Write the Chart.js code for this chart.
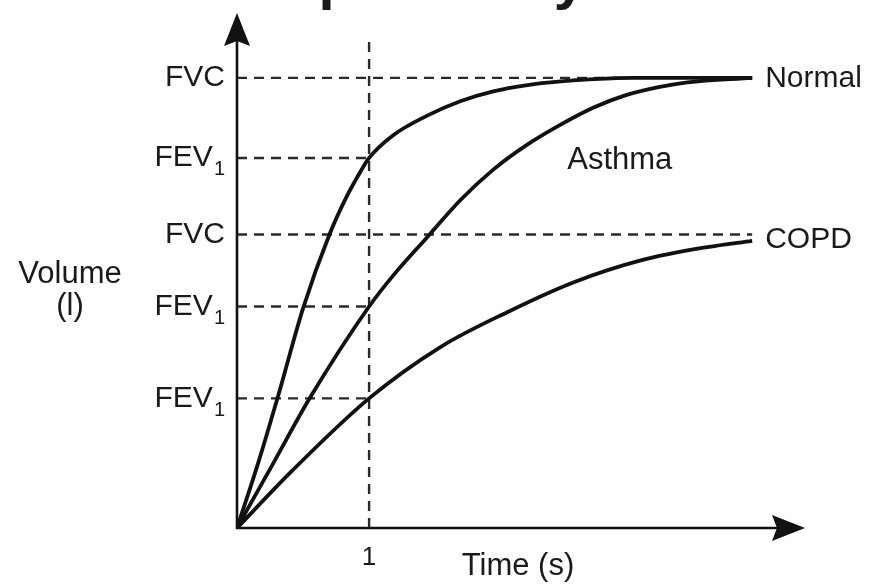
<!DOCTYPE html>
<html>
<head>
<meta charset="utf-8">
<title>Spirometry</title>
<script src="https://cdn.jsdelivr.net/npm/chart.js@4.4.1/dist/chart.umd.min.js"></script>
<style>
  html, body { margin: 0; padding: 0; background: #fff; }
  #wrap { width: 880px; height: 586px; position: relative; }
</style>
</head>
<body>
<div id="wrap"><canvas id="spiro"></canvas></div>
<script>
// values: time in s, volume in l
const normalTime = [0, 0.16, 0.31, 0.5, 0.7, 0.83, 0.92, 1.0, 1.18, 1.44, 1.69, 1.94, 2.2, 2.45, 2.7, 3.0, 3.9];
const normalVol  = [0, 0.72, 1.46, 2.44, 3.26, 3.68, 3.92, 4.11, 4.36, 4.58, 4.74, 4.85, 4.92, 4.96, 4.985, 5.0, 5.0];

const asthmaTime = [0, 0.29, 0.55, 1.0, 1.18, 1.44, 1.69, 1.94, 2.2, 2.45, 2.7, 2.95, 3.2, 3.41, 3.9];
const asthmaVol  = [0, 0.76, 1.44, 2.46, 2.8, 3.23, 3.64, 3.98, 4.26, 4.48, 4.67, 4.81, 4.9, 4.95, 5.0];

const copdTime = [0, 0.42, 1.0, 1.54, 2.05, 2.55, 3.05, 3.56, 3.9];
const copdVol  = [0, 0.64, 1.44, 2.01, 2.4, 2.73, 2.97, 3.12, 3.19];

const curveNames = ['Normal', 'Asthma', 'COPD'];

// dashed guide lines (FVC / FEV1 levels) and where they stop on the time axis
const refLevel = [5.0, 4.11, 3.26, 2.46, 1.44];
const refEnd   = [3.9, 1.0, 3.9, 1.0, 1.0];
const refText  = ['FVC', 'FEV', 'FVC', 'FEV', 'FEV'];
const refSub   = ['', '1', '', '1', '1'];

const xTicks = [1];
const markTime = 1;      // vertical dashed line at 1 s
const markTop = 5.44;

const FONT = "'Liberation Sans', Arial, Helvetica, sans-serif";
const INK = '#111';

const toPoints = (xs, ys) => xs.map((x, i) => ({ x: x, y: ys[i] }));

const curveStyle = {
    borderColor: INK,
    borderWidth: 3.8,
    pointRadius: 0,
    fill: false,
    cubicInterpolationMode: 'monotone',
    order: 1
};

const dashStyle = {
    borderColor: '#2a2a2a',
    borderWidth: 2.4,
    borderDash: [10, 7],
    pointRadius: 0,
    fill: false,
    tension: 0,
    order: 2
};

const datasets = [
    Object.assign({ label: curveNames[0], data: toPoints(normalTime, normalVol) }, curveStyle),
    Object.assign({ label: curveNames[1], data: toPoints(asthmaTime, asthmaVol) }, curveStyle),
    Object.assign({ label: curveNames[2], data: toPoints(copdTime, copdVol) }, curveStyle)
];
refLevel.forEach((v, i) => {
    datasets.push(Object.assign({ label: 'ref' + i, data: [{ x: 0, y: v }, { x: refEnd[i], y: v }] }, dashStyle));
});
datasets.push(Object.assign({ label: 'mark', data: [{ x: markTime, y: 0 }, { x: markTime, y: markTop }] }, dashStyle));

// axes with arrow heads, labels and the clipped title
const decorPlugin = {
    id: 'decor',
    afterDraw(chart) {
        const ctx = chart.ctx;
        const xs = chart.scales.x, ys = chart.scales.y;
        const x0 = xs.getPixelForValue(0), y0 = ys.getPixelForValue(0);
        const xEnd = chart.chartArea.right, yTop = chart.chartArea.top;
        ctx.save();

        // axis lines
        ctx.strokeStyle = INK;
        ctx.fillStyle = INK;
        ctx.lineWidth = 2.6;
        ctx.beginPath();
        ctx.moveTo(x0, y0 + 1);
        ctx.lineTo(x0, yTop + 20);
        ctx.moveTo(x0 - 1, y0);
        ctx.lineTo(xEnd - 20, y0);
        ctx.stroke();

        // arrow heads
        ctx.beginPath();
        ctx.moveTo(x0, yTop);
        ctx.lineTo(x0 - 13, yTop + 33);
        ctx.lineTo(x0, yTop + 28);
        ctx.lineTo(x0 + 13, yTop + 33);
        ctx.closePath();
        ctx.fill();
        ctx.beginPath();
        ctx.moveTo(xEnd, y0);
        ctx.lineTo(xEnd - 33, y0 - 13);
        ctx.lineTo(xEnd - 28, y0);
        ctx.lineTo(xEnd - 33, y0 + 13);
        ctx.closePath();
        ctx.fill();

        ctx.fillStyle = '#1a1a1a';

        // y labels: FVC / FEV1
        ctx.textBaseline = 'middle';
        refLevel.forEach((v, i) => {
            const py = ys.getPixelForValue(v);
            ctx.textAlign = 'right';
            if (refSub[i]) {
                ctx.font = '20px ' + FONT;
                const subW = ctx.measureText(refSub[i]).width;
                ctx.fillText(refSub[i], x0 - 12, py + 12);
                ctx.font = '30px ' + FONT;
                ctx.fillText(refText[i], x0 - 13 - subW, py);
            } else {
                ctx.font = '30px ' + FONT;
                ctx.fillText(refText[i], x0 - 12, py);
            }
        });

        // x tick
        ctx.font = '26px ' + FONT;
        ctx.textAlign = 'center';
        xTicks.forEach(t => {
            ctx.fillText(String(t), xs.getPixelForValue(t), y0 + 30);
        });

        // axis titles
        ctx.font = '31px ' + FONT;
        ctx.fillText('Time (s)', 518, y0 + 38);
        ctx.fillText('Volume', 70, 274);
        ctx.fillText('(l)', 70, 306);

        // curve names
        ctx.textAlign = 'left';
        ctx.font = '30px ' + FONT;
        ctx.fillText(curveNames[0], xs.getPixelForValue(normalTime[normalTime.length - 1]) + 13,
            ys.getPixelForValue(normalVol[normalVol.length - 1]) + 1);
        ctx.font = '31px ' + FONT;
        ctx.fillText(curveNames[1], xs.getPixelForValue(2.5), ys.getPixelForValue(4.08));
        ctx.font = '30px ' + FONT;
        ctx.fillText(curveNames[2], xs.getPixelForValue(copdTime[copdTime.length - 1]) + 13,
            ys.getPixelForValue(copdVol[copdVol.length - 1]) - 1);

        // title, mostly above the top edge (only descenders show)
        ctx.font = 'bold 58px ' + FONT;
        ctx.textAlign = 'center';
        ctx.textBaseline = 'alphabetic';
        ctx.fillText('Spirometry', 433, -2);

        ctx.restore();
    }
};

new Chart('spiro', {
    type: 'line',
    data: { datasets: datasets },
    options: {
        responsive: true,
        maintainAspectRatio: false,
        animation: false,
        layout: {
            padding: { left: 237, right: 75, top: 13, bottom: 58 }
        },
        plugins: {
            legend: { display: false },
            tooltip: { enabled: false }
        },
        scales: {
            x: { type: 'linear', min: 0, max: 4.3, display: false },
            y: { type: 'linear', min: 0, max: 5.72, display: false }
        }
    },
    plugins: [decorPlugin]
});
</script>
</body>
</html>
